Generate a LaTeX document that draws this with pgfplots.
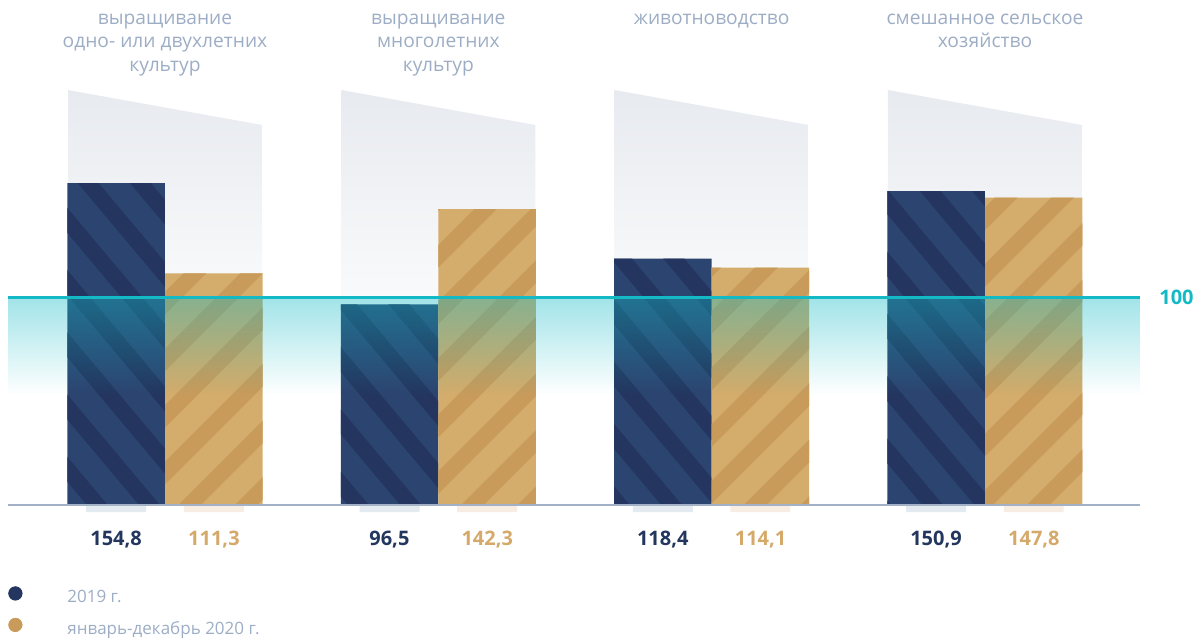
\documentclass[border=0pt]{standalone}
\usepackage{pgfplots}
\pgfplotsset{compat=1.18}
\usepackage{fontspec}
\setmainfont{Open Sans}
\usetikzlibrary{fadings,patterns.meta}
\definecolor{navy}{HTML}{2C4470}
\definecolor{navydark}{HTML}{243660}
\definecolor{gold}{HTML}{D4AC6B}
\definecolor{golddark}{HTML}{C89B5B}
\definecolor{navytext}{HTML}{23365E}
\definecolor{goldtext}{HTML}{D4A96A}
\definecolor{titlegray}{HTML}{9DADC5}
\definecolor{basegray}{HTML}{A3B1C6}
\definecolor{teal}{HTML}{13BAC6}
\definecolor{tabblue}{HTML}{E3EAF0}
\definecolor{tabpeach}{HTML}{F8EDE3}
\definecolor{bggray}{HTML}{E7EAEF}
\definecolor{bgfade}{HTML}{F9FAFB}
\begin{document}
\begin{tikzpicture}
\useasboundingbox (0,0) rectangle (597.5pt,319pt);
\begin{axis}[
    at={(0,0)}, anchor=south west,
    scale only axis, width=597.5pt, height=319pt,
    xmin=-0.6037, xmax=3.7684,
    ymin=-63.94, ymax=242.79,
    hide axis, clip=false,
    legend cell align=left,
    legend style={at={(axis cs:-0.5744,-38.96)}, anchor=north west,
        draw=none, fill=none, inner sep=0pt, column sep=0pt, row sep=5.5pt,
        nodes={inner sep=0pt, text height=6.5pt, text depth=2pt},
        font=\fontsize{8.5}{10}\selectfont, text=titlegray},
]
% grey backdrops behind each group
\pgfplotsinvokeforeach{0,1,2,3}{
  \shade[top color=bggray, bottom color=bgfade]
    (axis cs:#1-0.3549,100) -- (axis cs:#1-0.3549,199.5)
    -- (axis cs:#1+0.3549,182.7) -- (axis cs:#1+0.3549,100) -- cycle;
}
\addplot[ybar, bar width=0.3567, bar shift=-0.1784, fill=navy, draw=none,
    postaction={pattern color=navydark, pattern={Lines[angle=-50,distance=20pt,line width=8pt]}},
    legend image code/.code={\fill[navy] (3.5pt,0.25em) circle (3.5pt); \path (29.5pt,0.25em);}]
  coordinates {(0,154.8) (1,96.5) (2,118.4) (3,150.9)};
\addlegendentry{2019 г.}
\addplot[ybar, bar width=0.3567, bar shift=0.1784, fill=gold, draw=none,
    postaction={pattern color=golddark, pattern={Lines[angle=45,distance=20pt,line width=8pt]}},
    legend image code/.code={\fill[gold] (3.5pt,0.25em) circle (3.5pt); \path (29.5pt,0.25em);}]
  coordinates {(0,111.3) (1,142.3) (2,114.1) (3,147.8)};
\addlegendentry{январь-декабрь 2020 г.}
% small tabs under the bars
\addplot[ybar, bar width=0.2195, bar shift=-0.1784, fill=tabblue, draw=none, forget plot]
  coordinates {(0,-3.4) (1,-3.4) (2,-3.4) (3,-3.4)};
\addplot[ybar, bar width=0.2195, bar shift=0.1784, fill=tabpeach, draw=none, forget plot]
  coordinates {(0,-3.4) (1,-3.4) (2,-3.4) (3,-3.4)};
% teal glow under the 100 line
\fill[teal, path fading=south, fill opacity=0.4]
  (axis cs:-0.5744,52.9) rectangle (axis cs:3.5671,100);
\draw[basegray, line width=1pt] (axis cs:-0.5744,0) -- (axis cs:3.5671,0);
\draw[teal, line width=1.5pt] (axis cs:-0.5744,100) -- (axis cs:3.5671,100);
\node[anchor=west, text=teal, font=\fontsize{10}{12}\selectfont\bfseries, inner sep=0pt]
  at (axis cs:3.6364,100) {100};
% titles
\begin{scope}[every node/.style={anchor=base, text=titlegray, inner sep=0pt,
    font=\fontsize{9.6}{11}\selectfont}]
\node at (axis cs:0,230.77) {выращивание};
\node at (axis cs:0,219.71) {одно- или двухлетних};
\node at (axis cs:0,208.65) {культур};
\node at (axis cs:1,230.77) {выращивание};
\node at (axis cs:1,219.71) {многолетних};
\node at (axis cs:1,208.65) {культур};
\node at (axis cs:2,230.77) {животноводство};
\node at (axis cs:3,230.77) {смешанное сельское};
\node at (axis cs:3,219.71) {хозяйство};
\end{scope}
% value labels
\begin{scope}[every node/.style={anchor=base, inner sep=0pt,
    font=\fontsize{10}{12}\selectfont\bfseries}]
\node[text=navytext] at (axis cs:-0.179,-19.7) {154,8};
\node[text=goldtext] at (axis cs:0.179,-19.7) {111,3};
\node[text=navytext] at (axis cs:0.821,-19.7) {96,5};
\node[text=goldtext] at (axis cs:1.179,-19.7) {142,3};
\node[text=navytext] at (axis cs:1.821,-19.7) {118,4};
\node[text=goldtext] at (axis cs:2.179,-19.7) {114,1};
\node[text=navytext] at (axis cs:2.821,-19.7) {150,9};
\node[text=goldtext] at (axis cs:3.179,-19.7) {147,8};
\end{scope}
\end{axis}
\end{tikzpicture}
\end{document}
